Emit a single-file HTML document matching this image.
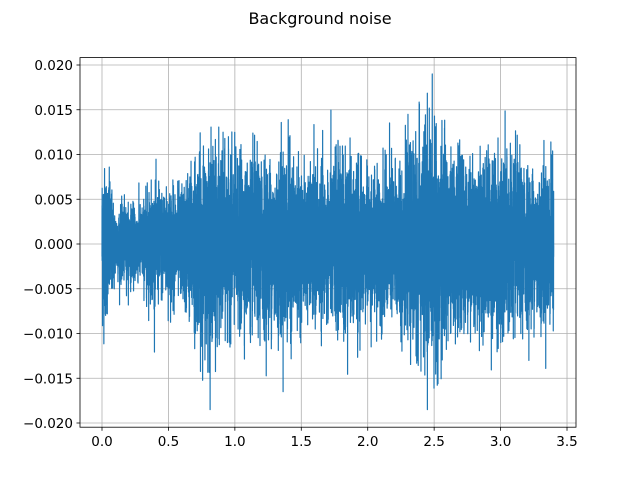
<!DOCTYPE html>
<html><head><meta charset="utf-8"><style>
body{margin:0;background:#fff;}
svg{display:block;font-family:"DejaVu Sans","Liberation Sans",sans-serif;}
</style></head><body>
<svg id="s" width="640" height="480" xmlns="http://www.w3.org/2000/svg">
<rect width="640" height="480" fill="#fff"/>
<text x="320" y="24" font-size="16" text-anchor="middle">Background noise</text>
<g id="grid" stroke="#b0b0b0" stroke-width="0.8"></g>
<path id="sig" fill="none" stroke="#1f77b4" stroke-width="1.2" stroke-linejoin="round"/>
<rect x="80" y="57.6" width="496" height="369.6" fill="none" stroke="#000" stroke-width="0.8"/>
<g id="ticks" font-size="13.5" fill="#000"></g>
</svg>
<script>
function X(t){return 102+t*132.86;}
function Y(v){return 244-v/0.005*44.75;}
var g=document.getElementById('grid'),tk=document.getElementById('ticks'),h='',t='';
for(var i=0;i<=7;i++){var x=X(i*0.5);
h+='<line x1="'+x+'" x2="'+x+'" y1="57.6" y2="427.2"/>';
t+='<line x1="'+x+'" x2="'+x+'" y1="427.2" y2="430.7" stroke="#000" stroke-width="0.8"/>';
t+='<text x="'+x+'" y="446" text-anchor="middle">'+(i*0.5).toFixed(1)+'</text>';}
for(var j=-4;j<=4;j++){var y=Y(j*0.005);
h+='<line x1="80" x2="576" y1="'+y+'" y2="'+y+'"/>';
t+='<line x1="76.5" x2="80" y1="'+y+'" y2="'+y+'" stroke="#000" stroke-width="0.8"/>';
t+='<text x="73" y="'+(y+5)+'" text-anchor="end">'+(j*0.005).toFixed(3).replace('-','\u2212')+'</text>';}
g.innerHTML=h;tk.innerHTML=t;
var env=[[0,0.0075],[0.05,0.006],[0.1,0.0032],[0.3,0.0035],[0.35,0.005],[0.6,0.005],[0.7,0.0075],[0.8,0.0085],[1.0,0.007],[1.3,0.0075],[1.4,0.0085],[1.5,0.006],[1.7,0.0065],[1.8,0.0085],[2.0,0.006],[2.3,0.0075],[2.45,0.011],[2.6,0.008],[2.8,0.007],[3.0,0.0085],[3.2,0.0065],[3.4,0.007]];
function E(t){for(var k=1;k<env.length;k++){if(t<=env[k][0]){var a=env[k-1],b=env[k],f=(t-a[0])/(b[0]-a[0]);return a[1]+f*(b[1]-a[1]);}}return 0.007;}
var seed=12345;function r(){seed=(seed*1103515245+12345)%2147483648;return seed/2147483648;}
function gn(){return Math.sqrt(-2*Math.log(r()+1e-9))*Math.cos(6.2832*r());}
var d='',N=9000;
for(var n=0;n<=N;n++){var tt=3.4*n/N;var v=gn()*E(tt)*0.6;
if(v>0.019)v=0.019;if(v<-0.0185)v=-0.0185;
d+=(n?'L':'M')+X(tt).toFixed(2)+' '+Y(v).toFixed(2);}
document.getElementById('sig').setAttribute('d',d);
</script>
</body></html>
